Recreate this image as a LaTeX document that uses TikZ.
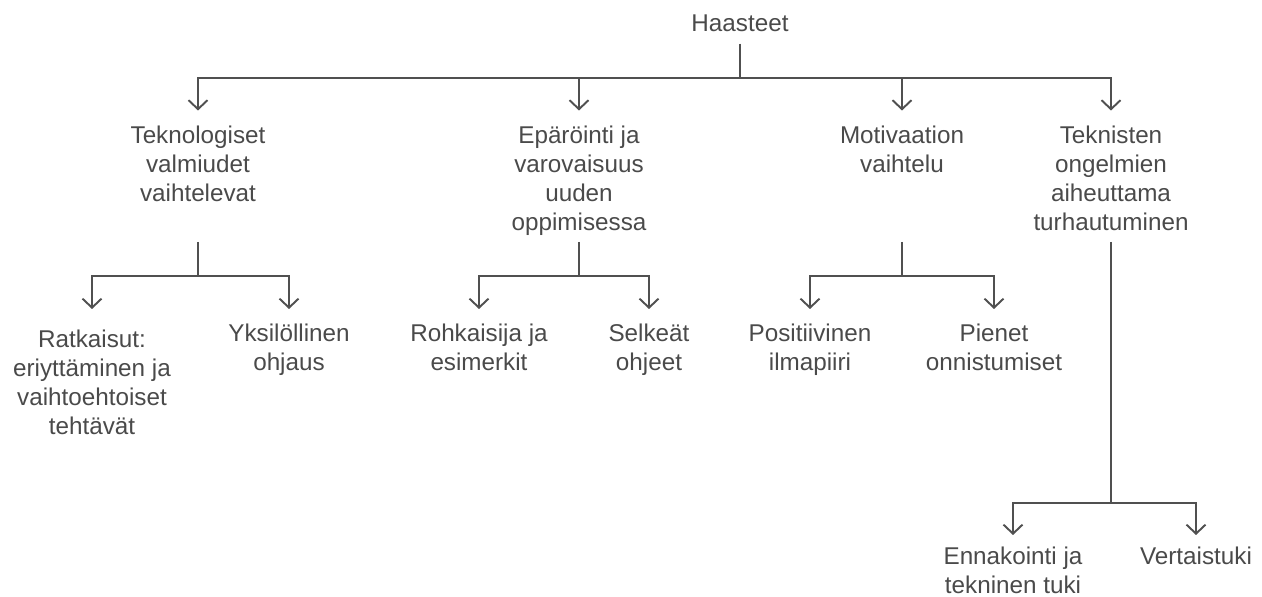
\documentclass[tikz,border=0pt]{standalone}
\usepackage{fontspec}
\setmainfont{Liberation Sans}
\usetikzlibrary{arrows.meta}
\definecolor{cInk}{HTML}{4A4A4A}
\definecolor{cLine}{HTML}{505050}

\begin{document}
\begin{tikzpicture}[
    x=0.02cm, y=-0.02cm,
    lbl/.style={
        align=center, anchor=north, inner sep=0pt, text=cInk,
        font=\fontsize{13.8pt}{16.5pt}\selectfont
    },
    link/.style={draw=cLine, line width=1.1pt},
    arr/.style={link, -{Straight Barb[length=0.18cm, width=0.38cm]}},
]
\useasboundingbox (0,0) rectangle (1262,597);

% =============================================
% ROOT
% =============================================
\node[lbl, anchor=base] (haasteet) at (740,32) {Haasteet};
\coordinate (rootSplit) at (740,78);
\draw[link] ([yshift=-0.22cm]haasteet.south) -- (rootSplit);

% =============================================
% CHALLENGES (level 1)
% =============================================
\node[lbl] (tekno) at (198,125.5)  {Teknologiset\\valmiudet\\vaihtelevat};
\node[lbl] (eparo) at (579,125.5)  {Epäröinti ja\\varovaisuus\\uuden\\oppimisessa};
\node[lbl] (motiv) at (902,125.5)  {Motivaation\\vaihtelu};
\node[lbl] (tekni) at (1111,125.5) {Teknisten\\ongelmien\\aiheuttama\\turhautuminen};

\foreach \n in {tekno, eparo, motiv, tekni} {
    \draw[arr] (rootSplit) -| ([yshift=0.3cm]\n.north);
}

% branch points below each challenge
\coordinate (tekno-out) at (198,242);
\coordinate (eparo-out) at (579,242);
\coordinate (motiv-out) at (902,242);
\coordinate (tekni-out) at (1111,242);
\coordinate (tekno-split) at (198,276);
\coordinate (eparo-split) at (579,276);
\coordinate (motiv-split) at (902,276);
\coordinate (tekni-split) at (1111,503);

\foreach \n in {tekno, eparo, motiv, tekni} {
    \draw[link] (\n-out) -- (\n-split);
}

% =============================================
% SOLUTIONS (level 2)
% =============================================
\node[lbl] (ratk) at (92,329.5)  {Ratkaisut:\\eriyttäminen ja\\vaihtoehtoiset\\tehtävät};
\node[lbl] (yksi) at (289,323.5) {Yksilöllinen\\ohjaus};
\node[lbl] (rohk) at (479,323.5) {Rohkaisija ja\\esimerkit};
\node[lbl] (selk) at (649,323.5) {Selkeät\\ohjeet};
\node[lbl] (posi) at (810,323.5) {Positiivinen\\ilmapiiri};
\node[lbl] (pien) at (994,323.5) {Pienet\\onnistumiset};
\node[lbl] (ennak) at (1013,547) {Ennakointi ja\\tekninen tuki};
\node[lbl] (vert) at (1196,547)  {Vertaistuki};

\draw[arr] (tekno-split) -| ([yshift=0.41cm]ratk.north);
\draw[arr] (tekno-split) -| ([yshift=0.29cm]yksi.north);
\draw[arr] (eparo-split) -| ([yshift=0.29cm]rohk.north);
\draw[arr] (eparo-split) -| ([yshift=0.29cm]selk.north);
\draw[arr] (motiv-split) -| ([yshift=0.29cm]posi.north);
\draw[arr] (motiv-split) -| ([yshift=0.29cm]pien.north);
\draw[arr] (tekni-split) -| ([yshift=0.24cm]ennak.north);
\draw[arr] (tekni-split) -| ([yshift=0.24cm]vert.north);

\end{tikzpicture}
\end{document}
